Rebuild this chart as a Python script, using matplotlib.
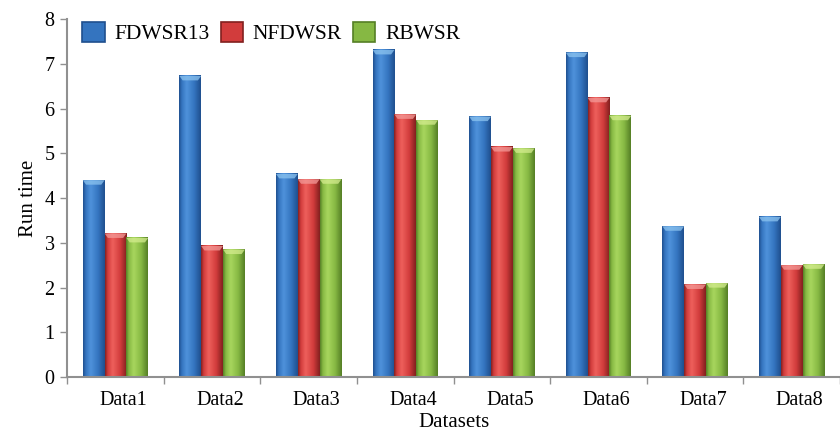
import matplotlib
matplotlib.use("Agg")
import matplotlib.pyplot as plt
import matplotlib.transforms as mtransforms
from matplotlib.colors import LinearSegmentedColormap
from matplotlib.patches import Polygon, Patch
import numpy as np

plt.rcParams['font.family'] = ['Liberation Serif', 'DejaVu Serif']

# data
datasets = ["Data1", "Data2", "Data3", "Data4", "Data5", "Data6", "Data7", "Data8"]
series = ["FDWSR13", "NFDWSR", "RBWSR"]
fdwsr13 = [4.40, 6.73, 4.54, 7.31, 5.82, 7.25, 3.37, 3.58]
nfdwsr = [3.21, 2.93, 4.42, 5.87, 5.14, 6.24, 2.07, 2.50]
rbwsr = [3.11, 2.85, 4.42, 5.74, 5.11, 5.84, 2.10, 2.52]
values = [fdwsr13, nfdwsr, rbwsr]

# (dark edge, light, mid, cap colour)
shades = [
    ("#1f4f8e", "#4f92db", "#3474bf", "#8cc4f0"),
    ("#82201f", "#ee605c", "#d23c3c", "#f49a98"),
    ("#557f25", "#a8d65e", "#86b843", "#d4ec8e"),
]

fig = plt.figure(figsize=(8.4, 4.33), dpi=100)
ax = fig.add_axes([0.08, 0.129, 0.92, 0.827])

bw = 0.226
x = np.arange(len(datasets))
grad = np.linspace(0, 1, 64).reshape(1, -1)

for i, (vals, (dark, light, mid, cap)) in enumerate(zip(values, shades)):
    cmap = LinearSegmentedColormap.from_list(
        series[i], [(0, dark), (0.12, mid), (0.35, light), (0.7, mid), (1, dark)])
    for xi, v in zip(x, vals):
        x0 = xi + (i - 1) * bw - bw / 2
        x1 = x0 + bw
        ax.imshow(grad, extent=[x0, x1, 0, v], cmap=cmap, aspect='auto',
                  zorder=2, interpolation='bicubic')
        d = 0.1
        ax.add_patch(Polygon([[x0, v], [x1, v], [x1 - bw * 0.15, v - d],
                              [x0 + bw * 0.15, v - d]],
                             closed=True, facecolor=cap, edgecolor='none',
                             alpha=0.75, zorder=3))

ax.set_xlim(-0.5, 7.44)
ax.set_ylim(0, 8)

ax.set_yticks(range(0, 9))
ax.set_xticks(x)
ax.set_xticklabels(datasets)
ax.set_xticks(np.arange(-0.5, 8, 1), minor=True)
ax.tick_params(axis='x', which='major', length=0, pad=10, labelsize=14.5)
ax.tick_params(axis='x', which='minor', length=5, color='#909090', width=1)
ax.tick_params(axis='y', length=5, color='#909090', width=1, labelsize=14.5, pad=4)
offset = mtransforms.ScaledTranslation(0.08, 0, fig.dpi_scale_trans)
for lab in ax.get_xticklabels():
    lab.set_transform(lab.get_transform() + offset)

for s in ['top', 'right']:
    ax.spines[s].set_visible(False)
for s in ['left', 'bottom']:
    ax.spines[s].set_color('#909090')
    ax.spines[s].set_linewidth(1.5)

ax.set_ylabel("Run time", fontsize=15, labelpad=5)
ax.set_xlabel("Datasets", fontsize=15, labelpad=2)

handles = [Patch(facecolor=m, edgecolor=d, linewidth=1.2) for d, l, m, c in shades]
ax.legend(handles, series, loc='upper left', bbox_to_anchor=(0.0, 1.035), ncol=3,
          frameon=False, fontsize=15.5, handlelength=1.05, handleheight=1.05,
          handletextpad=0.45, columnspacing=0.5, borderaxespad=0.3)

fig.savefig("out.png", dpi=100)
